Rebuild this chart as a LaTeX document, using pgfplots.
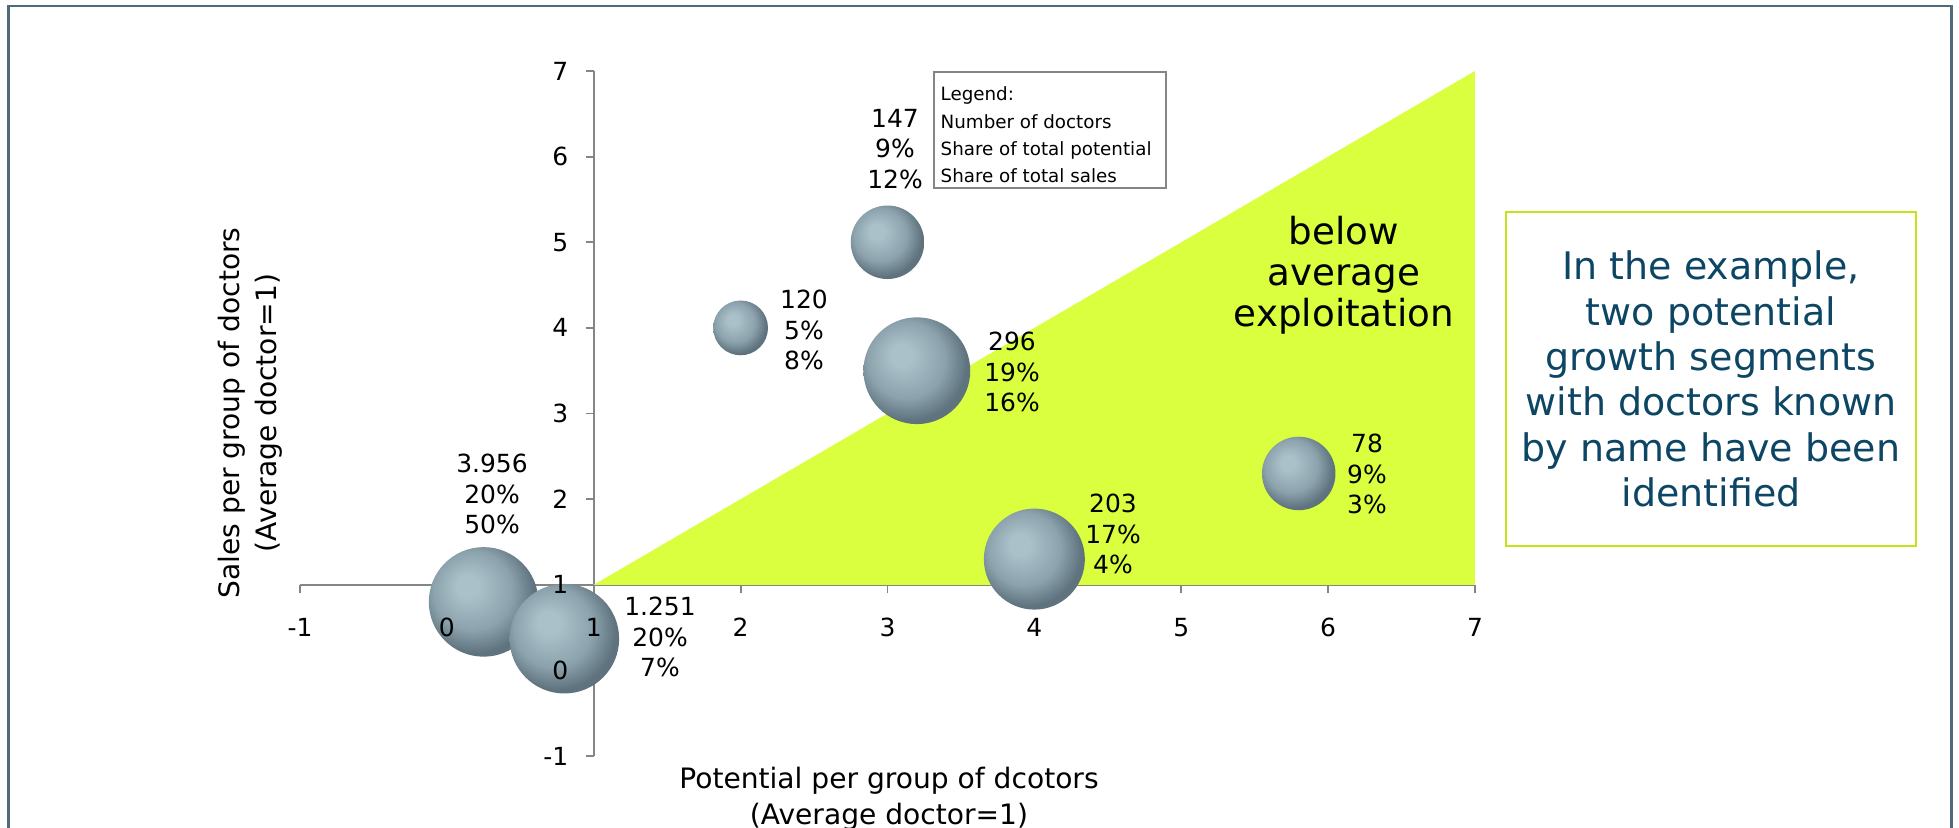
\documentclass[border=0pt]{standalone}
\usepackage{pgfplots}
\pgfplotsset{compat=1.18}
\usepackage{pgfplotstable}
\usepackage{fontspec}
\setmainfont{DejaVu Sans}

\definecolor{zoneC}{HTML}{DAFF3F}
\definecolor{boxC}{HTML}{C6E21A}
\definecolor{noteC}{HTML}{0D4664}
\definecolor{frameC}{HTML}{4F6B7A}
\definecolor{axisC}{HTML}{858585}
\definecolor{bubHi}{HTML}{ABC1CA}
\definecolor{bubMid}{HTML}{8CA2AC}
\definecolor{bubEdge}{HTML}{5E737D}

% shaded ball used as bubble marker
\pgfdeclareradialshading{bubbleshade}{\pgfpoint{-8bp}{8bp}}{color(0bp)=(bubHi); color(5bp)=(bubHi); color(18bp)=(bubMid); color(27bp)=(bubEdge); color(50bp)=(bubEdge)}
\pgfdeclareplotmark{bubble}{\pgfpathcircle{\pgfpointorigin}{\pgfplotmarksize}\pgfshadepath{bubbleshade}{0}\pgfusepath{}}

% tick labels above the bubbles, axis lines below
\pgfplotsset{
  layers/bubbles/.define layer set={axis background,axis grid,axis ticks,axis lines,pre main,main,axis tick labels,axis descriptions,axis foreground}{/pgfplots/layers/standard},
}

% potential, sales (average doctor = 1), share of total potential in %
\pgfplotstableread{
pot sales share
0.25 0.80 20
0.80 0.37 20
2.00 4.00 5
3.00 5.00 9
3.20 3.50 19
4.00 1.30 17
5.80 2.30 9
}\segments

\begin{document}
\begin{tikzpicture}
\draw[frameC, line width=0.28mm] (0.85mm,-3mm) -- (0.85mm,82.1mm) -- (195.15mm,82.1mm) -- (195.15mm,-3mm);

\begin{axis}[
  at={(30mm,7.1mm)}, anchor=south west,
  scale only axis, width=117.5mm, height=68.5mm,
  set layers=bubbles,
  axis lines=middle,
  axis line style={-, draw=axisC, line width=0.55pt},
  x filter/.expression={x-1}, y filter/.expression={y-1},
  xmin=-2, xmax=6, ymin=-2, ymax=6,
  xtick={-2,...,6}, ytick={-2,...,6},
  xticklabels={-1,0,1,2,3,4,5,6,7}, yticklabels={-1,0,1,2,3,4,5,6,7},
  hide obscured x ticks=false, hide obscured y ticks=false,
  tick align=outside, major tick length=0.8mm,
  tick style={draw=axisC, line width=0.55pt},
  ticklabel style={font=\fontsize{7.1}{8.5}\selectfont},
  xticklabel style={yshift=-1.3mm},
  yticklabel style={xshift=-0.5mm},
  clip=false,
]
\addplot[fill=zoneC, draw=none] coordinates {(1,1) (7,7) (7,1)} -- cycle;
\addplot[scatter, only marks, mark=bubble,
  visualization depends on={1.225*sqrt(\thisrow{share}) \as \rad},
  scatter/@pre marker code/.append style={/tikz/mark size=\rad mm}]
  table[x=pot, y=sales] {\segments};
\end{axis}

\tikzset{lab/.style={align=center, font=\fontsize{7.1}{8.7}\selectfont, inner sep=0pt}}
\node[lab] at (49.2mm,33.3mm) {3.956\\20\%\\50\%};
\node[lab] at (66.0mm,19.0mm) {1.251\\20\%\\7\%};
\node[lab] at (80.4mm,49.7mm) {120\\5\%\\8\%};
\node[lab] at (89.5mm,67.8mm) {147\\9\%\\12\%};
\node[lab] at (101.2mm,45.5mm) {296\\19\%\\16\%};
\node[lab] at (111.3mm,29.3mm) {203\\17\%\\4\%};
\node[lab] at (136.7mm,35.3mm) {78\\9\%\\3\%};

\draw[axisC, line width=0.4pt] (93.4mm,63.9mm) rectangle (116.6mm,75.5mm);
\node[anchor=north west, align=left, inner sep=0pt, font=\fontsize{5.2}{7.8}\selectfont]
  at (94.0mm,74.1mm) {Legend:\\Number of doctors\\Share of total potential\\Share of total sales};

\node[align=center, font=\fontsize{10.6}{11.6}\selectfont] at (134.4mm,55.2mm) {below\\average\\exploitation};

\node[align=center, rotate=90, font=\fontsize{8}{10.6}\selectfont] at (25.0mm,41.4mm) {Sales per group of doctors\\(Average doctor=1)};
\node[align=center, font=\fontsize{8}{10.2}\selectfont] at (88.9mm,2.85mm) {Potential per group of dcotors\\(Average doctor=1)};

\node[draw=boxC, line width=0.2mm, minimum width=41mm, minimum height=33.4mm, align=center,
  text=noteC, font=\fontsize{10.8}{12.9}\selectfont] at (171.1mm,44.8mm)
  {In the example,\\two potential\\growth segments\\with doctors known\\by name have been\\identified};

\pgfresetboundingbox
\useasboundingbox (0,0) rectangle (195.9mm,82.7mm);
\end{tikzpicture}
\end{document}
